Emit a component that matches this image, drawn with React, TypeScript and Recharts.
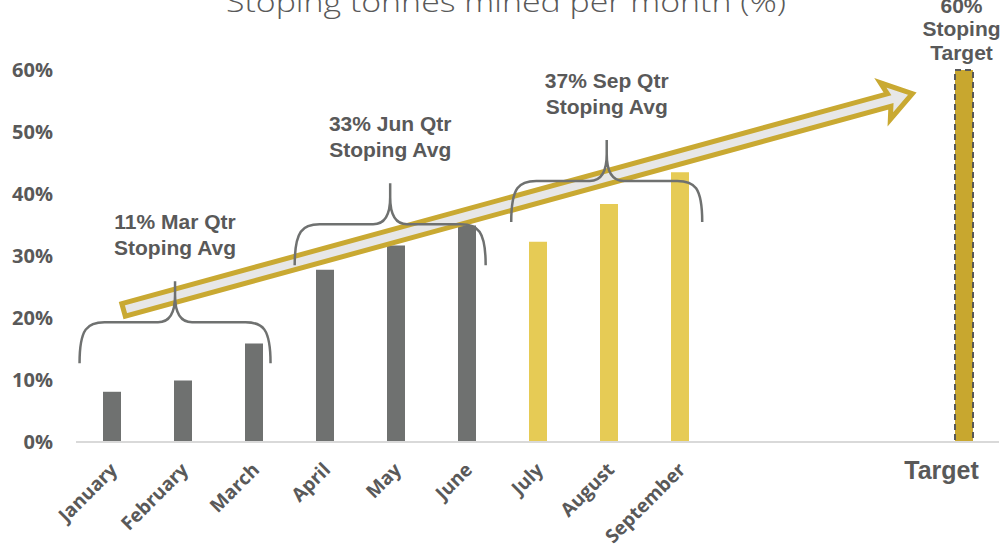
import { BarChart, Bar, XAxis, YAxis, Cell } from 'recharts'

const months = [
  'January',
  'February',
  'March',
  'April',
  'May',
  'June',
  'July',
  'August',
  'September',
  'gap1',
  'gap2',
  'gap3',
  'Target',
]
const stopingPct = [8.1, 9.9, 15.9, 27.8, 31.7, 34.9, 32.3, 38.4, 43.5, null, null, null, 60]
const quarter = ['Q1', 'Q1', 'Q1', 'Q2', 'Q2', 'Q2', 'Q3', 'Q3', 'Q3', '', '', '', 'T']
const yTicks = [0, 10, 20, 30, 40, 50, 60]

const qtrLabels = [
  { line1: '11% Mar Qtr', line2: 'Stoping Avg', from: -0.45, to: 2.24, base: 12.7 },
  { line1: '33% Jun Qtr', line2: 'Stoping Avg', from: 2.58, to: 5.27, base: 28.5 },
  { line1: '37% Sep Qtr', line2: 'Stoping Avg', from: 5.63, to: 8.32, base: 35.5 },
]
const arrowFrom = { i: 0.17, v: 21.3 }
const arrowTo = { i: 11.32, v: 56.3 }

const data = months.map((name, i) => ({ name, value: stopingPct[i], q: quarter[i] }))

const W = 1004
const H = 549
const PLOT_LEFT = 76
const PLOT_RIGHT = 999
const PLOT_TOP = 70
const PLOT_BOTTOM = 442
const BAND = (PLOT_RIGHT - PLOT_LEFT) / months.length
const TEXT = '#595959'
const GRAY = '#6f7170'

const xAt = (i: number) => PLOT_LEFT + BAND * (i + 0.5)
const yAt = (v: number) => PLOT_BOTTOM - (v / 60) * (PLOT_BOTTOM - PLOT_TOP)

const colorFor = (q: string) => {
  if (q === 'Q3') return '#e6cb55'
  if (q === 'T') return '#c8a72f'
  return GRAY
}

const XTick = (props: any) => {
  const { x, y, payload } = props
  const label = payload.value as string
  if (label.startsWith('gap')) return null
  if (label === 'Target') {
    return (
      <text x={x - 22} y={y + 37} textAnchor="middle" fill={TEXT} fontSize={25} fontWeight="bold"
        fontFamily="Liberation Sans, Arial, sans-serif">
        {label}
      </text>
    )
  }
  return (
    <g transform={`translate(${x + 7},${y + 29}) rotate(-45)`}>
      <text x={0} y={0} textAnchor="end" fill={TEXT} fontSize={19} fontWeight="bold"
        fontFamily="Open Sans, sans-serif">
        {label}
      </text>
    </g>
  )
}

const Brace = ({ from, to, base }: { from: number; to: number; base: number }) => {
  const x0 = xAt(from)
  const x1 = xAt(to)
  const xc = (x0 + x1) / 2
  const yb = yAt(base)
  const yh = yb - 41
  const yt = yh - 41
  const d =
    `M ${x0} ${yb} C ${x0} ${yh + 6} ${x0 + 8} ${yh} ${x0 + 25} ${yh} L ${xc - 17} ${yh} ` +
    `C ${xc - 5} ${yh} ${xc} ${yh - 10} ${xc} ${yh - 27} L ${xc} ${yt} ` +
    `M ${xc} ${yh - 27} C ${xc} ${yh - 10} ${xc + 5} ${yh} ${xc + 17} ${yh} L ${x1 - 25} ${yh} ` +
    `C ${x1 - 8} ${yh} ${x1} ${yh + 6} ${x1} ${yb}`
  return <path d={d} fill="none" stroke={GRAY} strokeWidth={2.5} />
}

const Arrow = () => {
  const sx = xAt(arrowFrom.i)
  const sy = yAt(arrowFrom.v)
  const ex = xAt(arrowTo.i)
  const ey = yAt(arrowTo.v)
  const len = Math.hypot(ex - sx, ey - sy) - 3
  const ang = (Math.atan2(ey - sy, ex - sx) * 180) / Math.PI
  const hw = 6.5
  const headW = 19
  const headL = 24
  const pts = [
    [0, -hw],
    [len - headL, -hw],
    [len - headL - 4, -headW],
    [len, 0],
    [len - headL - 4, headW],
    [len - headL, hw],
    [0, hw],
  ]
  return (
    <g transform={`translate(${sx},${sy}) rotate(${ang})`}>
      <polygon points={pts.map((p) => p.join(',')).join(' ')} fill="#e7e7e7" stroke="#c9a932"
        strokeWidth={5} strokeLinejoin="miter" />
    </g>
  )
}

const Overlay = () => (
  <svg width={W} height={H} style={{ position: 'absolute', left: 0, top: 0, pointerEvents: 'none' }}>
    <text x={506} y={12} textAnchor="middle" fill={TEXT} fontSize={28} fontWeight={300}
      fontFamily="Open Sans, sans-serif" textLength={560} lengthAdjust="spacingAndGlyphs">
      Stoping tonnes mined per month (%)
    </text>
    <Arrow />
    {qtrLabels.map((q) => (
      <Brace key={q.line1} from={q.from} to={q.to} base={q.base} />
    ))}
    <g fill={TEXT} fontSize={21} fontWeight="bold" fontFamily="Liberation Sans, Arial, sans-serif"
      textAnchor="middle">
      {qtrLabels.map((q) => {
        const cx = (xAt(q.from) + xAt(q.to)) / 2
        const top = yAt(q.base) - 82
        return (
          <g key={q.line1}>
            <text x={cx} y={top - 52}>{q.line1}</text>
            <text x={cx} y={top - 26}>{q.line2}</text>
          </g>
        )
      })}
      <text x={xAt(12) - 2} y={13}>60%</text>
      <text x={xAt(12) - 2} y={36}>Stoping</text>
      <text x={xAt(12) - 2} y={60}>Target</text>
    </g>
  </svg>
)

export default function App() {
  return (
    <div style={{ position: 'absolute', left: 0, top: 0, width: W, height: H, background: '#fff' }}>
      <BarChart width={W} height={H} data={data} barSize={18}
        margin={{ top: PLOT_TOP, right: W - PLOT_RIGHT, left: 0, bottom: 0 }}>
        <XAxis dataKey="name" interval={0} height={H - PLOT_BOTTOM} tickLine={false} tickSize={0}
          tickMargin={0} axisLine={{ stroke: '#d9d9d9', strokeWidth: 2 }} tick={XTick} />
        <YAxis width={PLOT_LEFT} domain={[0, 60]} ticks={yTicks} axisLine={false} tickLine={false}
          tickSize={0} tickMargin={23} tickFormatter={(v) => `${v}%`}
          tick={{ fill: TEXT, fontSize: 20, fontWeight: 'bold', fontFamily: 'Open Sans, sans-serif' }} />
        <Bar dataKey="value" isAnimationActive={false}>
          {data.map((d) => (
            <Cell key={d.name} fill={colorFor(d.q)} stroke={d.q === 'T' ? '#595959' : 'none'}
              strokeWidth={d.q === 'T' ? 2 : 0} strokeDasharray={d.q === 'T' ? '6 4' : undefined} />
          ))}
        </Bar>
      </BarChart>
      <Overlay />
    </div>
  )
}
